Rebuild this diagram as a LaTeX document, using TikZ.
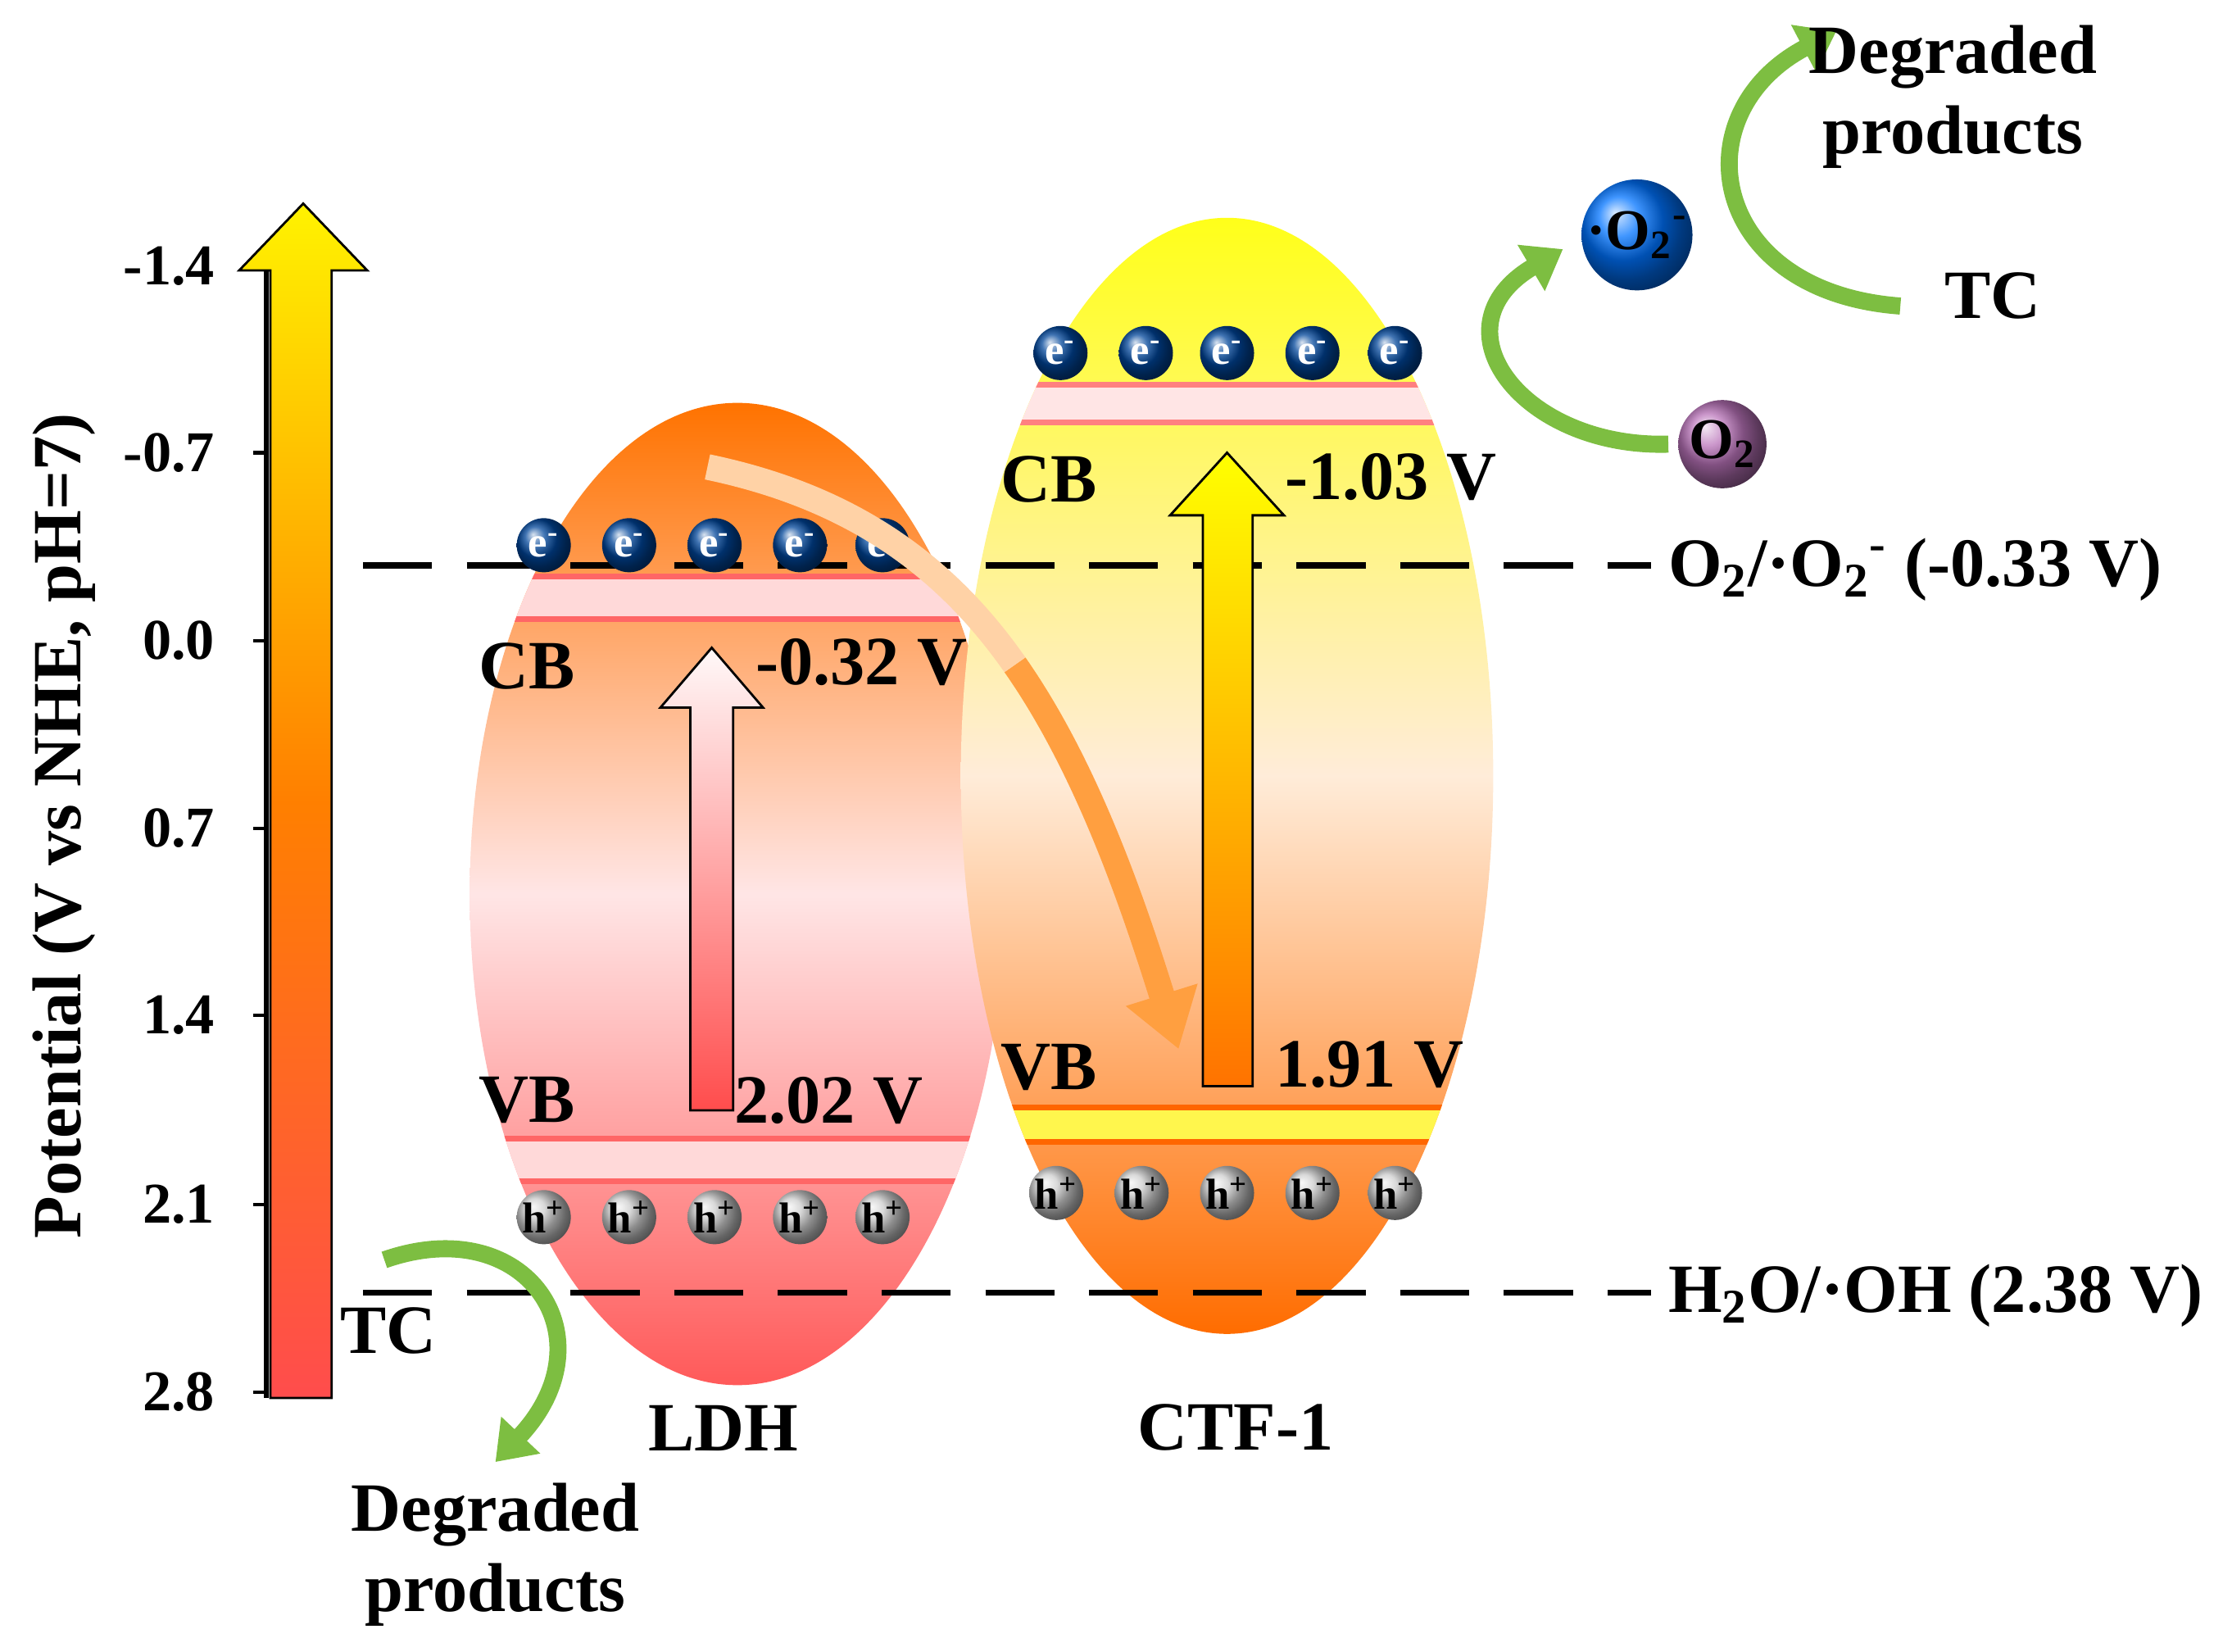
\documentclass[tikz,border=0pt]{standalone}
\usepackage{fontspec}
\setmainfont{Liberation Serif}
\usetikzlibrary{arrows.meta,shapes.geometric}
\definecolor{lg}{RGB}{125,190,65}
\begin{document}
\begin{tikzpicture}[x=0.01737cm,y=-0.01737cm,
  lab/.style={font=\fontsize{24}{28}\selectfont\bfseries},
  tick/.style={font=\fontsize{20}{22}\selectfont\bfseries,anchor=east},
  el/.style={circle,minimum size=38*0.01737cm,inner sep=0pt,ball color=blue!55!cyan!60!black,font=\fontsize{15}{16}\selectfont\bfseries,text=white},
  ho/.style={circle,minimum size=38*0.01737cm,inner sep=0pt,ball color=gray!40,font=\fontsize{15}{16}\selectfont\bfseries,text=black},
  dashln/.style={line width=2.2pt,dash pattern=on 24pt off 12pt},
  grn/.style={line width=12*0.01737cm,lg,-{Triangle[length=26*0.01737cm,width=36*0.01737cm]}},
  bigarr/.style={draw=black,line width=0.8pt}]
\useasboundingbox (0,0) rectangle (1568,1160);
% axis
\draw[line width=1.5pt] (187,185) -- (187,982);
\foreach \y/\t in {187/-1.4,318/-0.7,450/0.0,582/0.7,713/1.4,846/2.1,978/2.8}{
  \draw[line width=1.2pt] (187,\y) -- (178,\y);
  \node[tick] (t\y) at (158,\y) {\t};}
\node[lab,rotate=90] (ylab) at (45,580) {Potential (V vs NHE, pH=7)};
\path[bigarr,top color=yellow!90!orange,bottom color=red!70!white,middle color=orange]
  (190,982) -- (190,190) -- (168,190) -- (213,143) -- (258,190) -- (233,190) -- (233,982) -- cycle;
% ellipses
\node[ellipse,minimum width=376*0.01737cm,minimum height=690*0.01737cm,top color=orange!90!red,bottom color=red!65!white,middle color=pink!40] (ldh) at (518,628) {};
\node[ellipse,minimum width=374*0.01737cm,minimum height=784*0.01737cm,top color=yellow!90!white,bottom color=orange!85!red,middle color=orange!15!white] (ctf) at (862,545) {};
% bands
\begin{scope}
\clip (518,628) ellipse (188 and 345);
\fill[pink!60] (300,405) rectangle (720,435);
\draw[red!60,line width=2pt] (300,405) -- (720,405) (300,435) -- (720,435);
\fill[pink!60] (300,800) rectangle (720,830);
\draw[red!60,line width=2pt] (300,800) -- (720,800) (300,830) -- (720,830);
\end{scope}
\begin{scope}
\clip (862,545) ellipse (187 and 392);
\fill[pink!40] (650,270) rectangle (1070,297);
\draw[red!50,line width=2pt] (650,270) -- (1070,270) (650,297) -- (1070,297);
\fill[yellow!70] (650,778) rectangle (1070,802);
\draw[orange!80!red,line width=2pt] (650,778) -- (1070,778) (650,802) -- (1070,802);
\end{scope}
% dashed lines
\draw[dashln] (255,397) -- (1160,397);
\draw[dashln] (255,908) -- (1160,908);
\node[lab,anchor=west] (o2l) at (1165,400) {O\textsubscript{2}/·O\textsubscript{2}\textsuperscript{-} (-0.33 V)};
\node[lab,anchor=west] (h2o) at (1165,910) {H\textsubscript{2}O/·OH (2.38 V)};
% carriers
\foreach \x [count=\i] in {382,442,502,562,620}{\node[el] (le\i) at (\x,383) {e\textsuperscript{-}};}
\foreach \x [count=\i] in {745,805,862,922,980}{\node[el] (ce\i) at (\x,248) {e\textsuperscript{-}};}
\foreach \x [count=\i] in {382,442,502,562,620}{\node[ho] (lh\i) at (\x,855) {h\textsuperscript{+}};}
\foreach \x [count=\i] in {742,802,862,922,980}{\node[ho] (ch\i) at (\x,838) {h\textsuperscript{+}};}
% labels
\node[lab] (lcb) at (370,468) {CB};
\node[lab] (lcbv) at (605,465) {-0.32 V};
\node[lab] (lvb) at (370,773) {VB};
\node[lab] (lvbv) at (582,773) {2.02 V};
\node[lab] (ccb) at (737,337) {CB};
\node[lab] (ccbv) at (977,335) {-1.03 V};
\node[lab] (cvb) at (737,750) {VB};
\node[lab] (cvbv) at (962,748) {1.91 V};
\node[lab] (lldh) at (508,1003) {LDH};
\node[lab] (lctf) at (868,1003) {CTF-1};
% inner arrows
\path[bigarr,top color=white!90!pink,bottom color=red!70!white]
  (485,780) -- (485,497) -- (464,497) -- (500,455) -- (536,497) -- (515,497) -- (515,780) -- cycle;
\path[bigarr,top color=yellow,bottom color=orange!90!red]
  (845,763) -- (845,362) -- (822,362) -- (862,318) -- (902,362) -- (880,362) -- (880,763) -- cycle;
% transfer arrow (split curve for colour change)
\coordinate (ts) at (497,328);
\coordinate (tm) at (713,467);
\coordinate (te) at (828,737);
\draw[line width=18*0.01737cm,orange!75,-{Triangle[length=40*0.01737cm,width=50*0.01737cm]}] (tm) .. controls (762,537) and (794,628) .. (te);
\draw[line width=18*0.01737cm,orange!35!white] (ts) .. controls (598,349) and (664,397) .. (tm);
% right side
\node[circle,minimum size=62*0.01737cm,inner sep=0pt,ball color=violet!55,font=\fontsize{20}{22}\selectfont\bfseries] (o2) at (1210,312) {O\textsubscript{2}};
\node[circle,minimum size=66*0.01737cm,inner sep=0pt,ball color=blue!55!cyan,font=\fontsize{20}{22}\selectfont\bfseries] (sup) at (1150,165) {·O\textsubscript{2}\textsuperscript{-}};
\draw[grn] (1172,312) .. controls (1070,315) and (1005,230) .. (1098,175);
\draw[grn] (1335,215) .. controls (1200,205) and (1180,80) .. (1290,22);
\node[lab] (tc1) at (1400,208) {TC};
\node[lab,align=center] (dp1) at (1372,68) {Degraded\\products};
% bottom left
\node[lab] (tc2) at (273,935) {TC};
\draw[grn] (270,885) .. controls (370,850) and (430,940) .. (348,1027);
\node[lab,align=center] (dp2) at (348,1092) {Degraded\\products};
\end{tikzpicture}
\end{document}
